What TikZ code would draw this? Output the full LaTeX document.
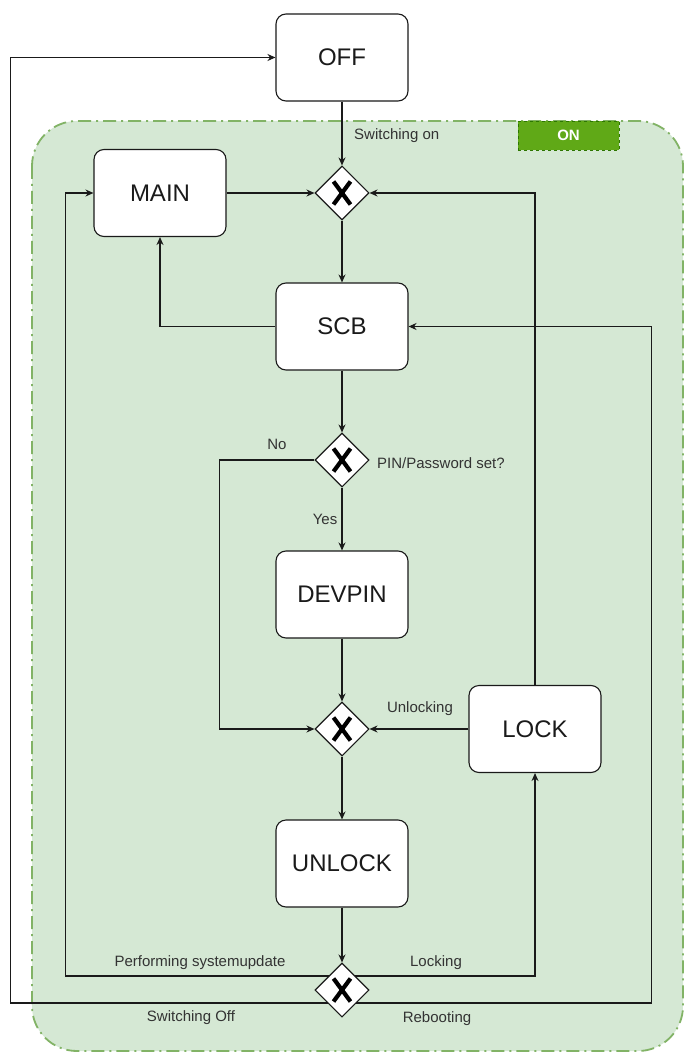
\documentclass[tikz,border=0pt]{standalone}
\usepackage{fontspec}
\setmainfont{Liberation Sans}
\usetikzlibrary{shapes.geometric,arrows.meta,calc}
\definecolor{onfill}{HTML}{D5E8D4}
\definecolor{onstroke}{HTML}{82B366}
\definecolor{tagfill}{HTML}{60A917}
\definecolor{tagstroke}{HTML}{2D7600}
\definecolor{txt}{HTML}{1A1A1A}
\definecolor{lbl}{HTML}{333333}
\tikzset{
  statebox/.style={draw=txt, fill=white, rounded corners=10pt, line width=1.1pt,
    minimum width=132pt, minimum height=87pt, inner sep=0pt,
    font=\fontsize{24}{28}\selectfont, text=txt},
  gateway/.style={diamond, draw=txt, fill=white, line width=1.1pt,
    minimum width=54pt, minimum height=54pt, inner sep=0pt,
    path picture={\draw[line width=4.2pt, black]
      ($(path picture bounding box.center)+(-8.5,-11.5)$) -- ($(path picture bounding box.center)+(8.5,11.5)$)
      ($(path picture bounding box.center)+(8.5,-11.5)$) -- ($(path picture bounding box.center)+(-8.5,11.5)$);}},
  arr/.style={draw=txt, line width=1.1pt, -{Stealth[length=8pt,width=7pt]}},
  lab/.style={font=\fontsize{15}{18}\selectfont, text=lbl, inner sep=0pt},
  container/.style={draw=onstroke, fill=onfill, line width=1.8pt, rounded corners=45pt,
    dash pattern=on 13pt off 5pt on 2pt off 5pt},
  tag/.style={draw=tagstroke, fill=tagfill, dashed, line width=0.8pt,
    minimum width=101pt, minimum height=29pt, inner sep=0pt,
    font=\fontsize{15}{18}\selectfont\bfseries, text=white}
}
\begin{document}
\begin{tikzpicture}[x=1pt,y=-1pt]
\useasboundingbox (0,0) rectangle (696,1056);
\fill[white] (0,0) rectangle (696,1056);
% container
\draw[container] (32,121) rectangle (683,1051);
\node[tag] (ontag) at (568.5,135.5) {ON};
% states
\node[statebox] (off) at (342,57.5) {OFF};
\node[statebox] (main) at (160,193) {MAIN};
\node[statebox] (scb) at (342,326.5) {SCB};
\node[statebox] (devpin) at (342,594.5) {DEVPIN};
\node[statebox] (lock) at (535,729) {LOCK};
\node[statebox] (unlock) at (342,863.5) {UNLOCK};
% gateways
\node[gateway] (g1) at (342,193) {};
\node[gateway] (g2) at (342,460) {};
\node[gateway] (g3) at (342,729) {};
\node[gateway] (g4) at (342,990) {};
% connectors
\draw[arr] (off) -- (g1);
\draw[arr] (main) -- (g1);
\draw[arr] (lock.north) |- (g1.east);
\draw[arr] (g1) -- (scb);
\draw[arr] (scb.west) -| (main.south);
\draw[arr] (scb) -- (g2);
\draw[arr] (g2.west) -- ++(-95,0) |- (g3.west);
\draw[arr] (g2) -- (devpin);
\draw[arr] (devpin) -- (g3);
\draw[arr] (lock) -- (g3);
\draw[arr] (g3) -- (unlock);
\draw[arr] (unlock) -- (g4);
\draw[arr] ($(g4)+(-13,-14)$) -| ($(main.west)+(-28,0)$) -- (main.west);
\draw[arr] ($(g4)+(13,-14)$) -| (lock.south);
\draw[arr] ($(g4)+(-14,13)$) -| ($(off.west)+(-265,0)$) -- (off.west);
\draw[arr] ($(g4)+(14,13)$) -| ($(scb.east)+(243,0)$) -- (scb.east);
% labels
\node[lab, anchor=west] (lon) at (354,136) {Switching on};
\node[lab] (lno) at (277,444) {No};
\node[lab, anchor=west] (lpin) at (377,463) {PIN/Password set?};
\node[lab] (lyes) at (325,519) {Yes};
\node[lab] (lunl) at (420,709) {Unlocking};
\node[lab] (lupd) at (200,963) {Performing systemupdate};
\node[lab] (llck) at (436,963) {Locking};
\node[lab] (loff) at (191,1018) {Switching Off};
\node[lab] (lreb) at (437,1019) {Rebooting};
\end{tikzpicture}
\end{document}
